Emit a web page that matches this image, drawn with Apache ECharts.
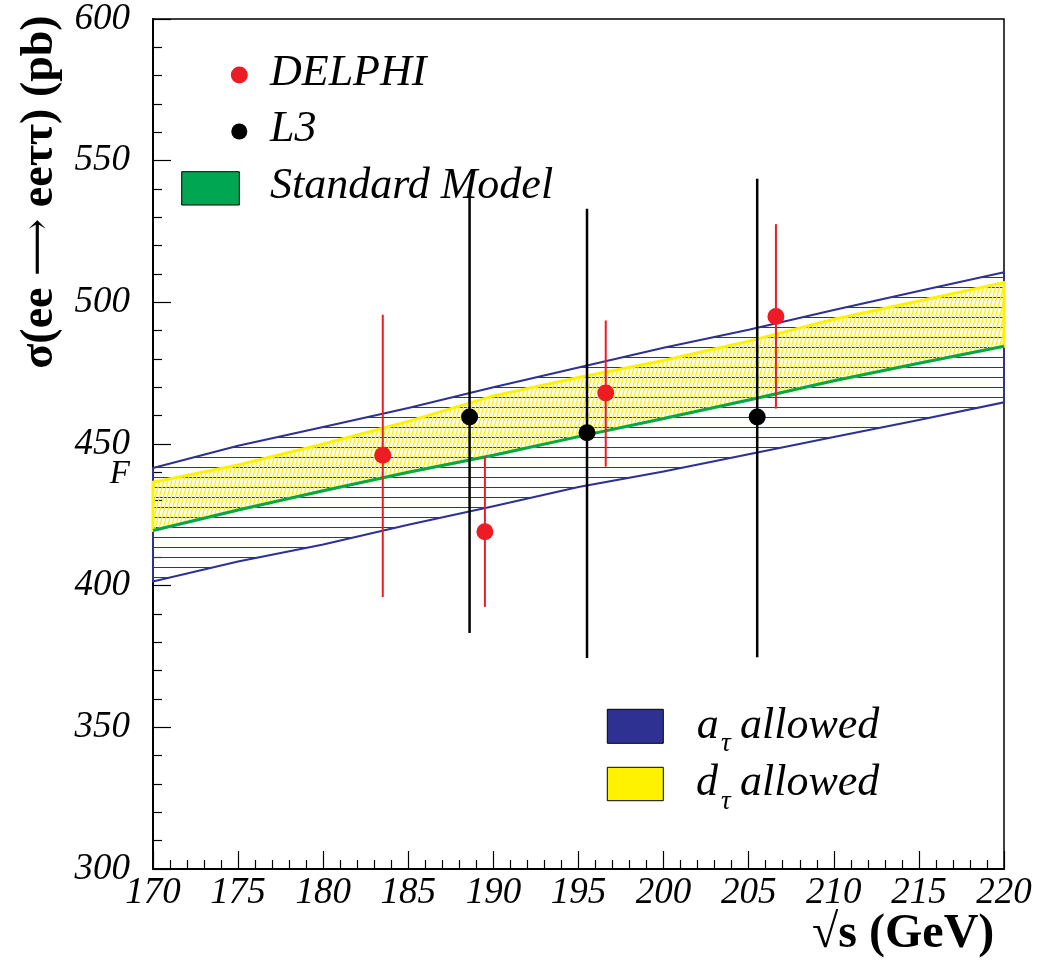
<!DOCTYPE html>
<html>
<head>
<meta charset="utf-8">
<script src="https://cdn.jsdelivr.net/npm/echarts@6/dist/echarts.min.js"></script>
<style>
  html, body { margin: 0; padding: 0; background: #fff; }
  #chart { width: 1043px; height: 965px; }
</style>
</head>
<body>
<div id="chart"></div>
<script>
// Centre-of-mass energies (GeV) at which the allowed bands are tabulated
const energies  = [170, 175, 180, 185, 190, 195, 200, 205, 210, 215, 220];
// a_tau allowed band (pb)
const aTauUpper = [441.5, 449.4, 456.0, 462.7, 470.0, 477.0, 484.0, 490.3, 497.3, 504.0, 510.6];
const aTauLower = [401.5, 408.5, 414.5, 421.5, 428.0, 434.8, 440.3, 446.4, 452.5, 458.5, 464.7];
// d_tau allowed band: upper edge, lower edge is the Standard Model curve
const dTauUpper = [436.5, 442.6, 450.0, 458.0, 467.0, 473.5, 479.5, 486.3, 494.0, 500.5, 507.0];
const smCurve   = [419.5, 426.7, 433.5, 440.0, 446.0, 452.6, 459.0, 465.5, 472.3, 478.5, 484.5];

// DELPHI measurements
const delphiE    = [183.5, 189.5, 196.6, 206.6];
const delphiXs   = [446.0, 419.0, 468.0, 495.0];
const delphiLow  = [396.0, 392.5, 442.0, 462.5];
const delphiHigh = [495.6, 445.6, 493.6, 527.6];

// L3 measurements
const l3E    = [188.6, 195.5, 205.5];
const l3Xs   = [459.5, 454.0, 459.5];
const l3Low  = [383.3, 374.5, 374.7];
const l3High = [537.5, 533.0, 543.6];

// Axis ranges and tick steps
const xRange = [170, 220], xStep = 5;
const yRange = [300, 600], yStep = 50;

const BLUE = '#2e3192', YELLOW = '#fff200', GREEN = '#00a651', RED = '#ed1c24';
const SERIF = '"Liberation Serif", "Times New Roman", serif';

function makeTile(w, h, draw) {
  const c = document.createElement('canvas');
  c.width = w; c.height = h;
  draw(c.getContext('2d'));
  return c;
}
// horizontal hatching for the a_tau band
const hatchH = makeTile(10, 10, g => { g.fillStyle = BLUE; g.fillRect(0, 7, 10, 1); });
// steep slanted hatching for the d_tau band
const hatchS = makeTile(4, 15, g => {
  g.strokeStyle = YELLOW; g.lineWidth = 1.3;
  g.beginPath();
  for (let k = -1; k <= 1; k++) { g.moveTo(k * 4, 15); g.lineTo(k * 4 + 4, 0); }
  g.stroke();
});

function band(name, lower, upper, fillTile, edge, edgeWidth, z) {
  return {
    type: 'custom', name, z, silent: true,
    data: [0],
    renderItem(params, api) {
      const up = energies.map((e, i) => api.coord([e, upper[i]]));
      const lo = energies.map((e, i) => api.coord([e, lower[i]])).reverse();
      return {
        type: 'polygon',
        shape: { points: up.concat(lo) },
        style: { fill: { image: fillTile, repeat: 'repeat' }, stroke: edge, lineWidth: edgeWidth }
      };
    }
  };
}

function errorBars(name, xs, lows, highs, color, width) {
  return {
    type: 'custom', name: name + ' err', z: 5, silent: true,
    data: xs.map((x, i) => [x, lows[i], highs[i]]),
    renderItem(params, api) {
      const a = api.coord([api.value(0), api.value(1)]);
      const b = api.coord([api.value(0), api.value(2)]);
      return { type: 'line', shape: { x1: a[0], y1: a[1], x2: b[0], y2: b[1] },
               style: { stroke: color, lineWidth: width } };
    }
  };
}

function label(x, baseline, text, size, opts) {
  opts = opts || {};
  return {
    type: 'text', x, y: baseline - 0.3375 * size, z: 100,
    style: {
      text, fill: '#000', align: opts.align || 'left', verticalAlign: 'middle',
      font: (opts.weight || 'italic') + ' ' + size + 'px ' + SERIF
    }
  };
}

const chart = echarts.init(document.getElementById('chart'), null, { renderer: 'canvas' });

const axisCommon = {
  type: 'value',
  axisLine: { show: true, onZero: false, lineStyle: { color: '#000', width: 2 } },
  axisTick: { show: true, inside: true, length: 18, lineStyle: { color: '#000', width: 1.2 } },
  minorTick: { show: true, splitNumber: 5, length: 9, lineStyle: { color: '#000', width: 1.2 } },
  splitLine: { show: false },
  minorSplitLine: { show: false }
};

chart.setOption({
  animation: false,
  backgroundColor: '#fff',
  grid: { left: 153, top: 19, width: 851, height: 850, show: true, borderColor: '#000', borderWidth: 1.5, containLabel: false },
  xAxis: Object.assign({}, axisCommon, {
    min: xRange[0], max: xRange[1], interval: xStep,
    axisLabel: { color: '#000', fontFamily: SERIF, fontStyle: 'italic', fontSize: 37, margin: 6 }
  }),
  yAxis: Object.assign({}, axisCommon, {
    min: yRange[0], max: yRange[1], interval: yStep,
    axisLabel: { color: '#000', fontFamily: SERIF, fontStyle: 'italic', fontSize: 37, margin: 23 }
  }),
  series: [
    band('a_tau allowed', aTauLower, aTauUpper, hatchH, BLUE, 2, 2),
    band('d_tau allowed', smCurve, dTauUpper, hatchS, YELLOW, 3, 3),
    {
      type: 'line', name: 'Standard Model', z: 4, silent: true,
      data: energies.map((e, i) => [e, smCurve[i]]),
      showSymbol: false, symbol: 'none',
      lineStyle: { color: GREEN, width: 3 }
    },
    errorBars('DELPHI', delphiE, delphiLow, delphiHigh, RED, 2),
    errorBars('L3', l3E, l3Low, l3High, '#000', 2.5),
    {
      type: 'scatter', name: 'DELPHI', z: 6, symbol: 'circle', symbolSize: 17,
      itemStyle: { color: RED, opacity: 1 },
      data: delphiE.map((e, i) => [e, delphiXs[i]])
    },
    {
      type: 'scatter', name: 'L3', z: 6, symbol: 'circle', symbolSize: 17,
      itemStyle: { color: '#000', opacity: 1 },
      data: l3E.map((e, i) => [e, l3Xs[i]])
    }
  ],
  graphic: [
    // axis titles
    {
      type: 'text', x: 40, y: 192, rotation: Math.PI / 2, z: 100,
      style: {
        text: '{t|σ(ee }{a|⟶}{t| eeττ) (pb)}', fill: '#000', align: 'center', verticalAlign: 'middle',
        rich: {
          t: { fontFamily: SERIF, fontWeight: 'bold', fontSize: 46, fill: '#000' },
          a: { fontFamily: '"DejaVu Serif", "DejaVu Sans", serif', fontWeight: 'normal', fontSize: 40, fill: '#000' }
        }
      }
    },
    label(812, 951, '√s (GeV)', 48, { weight: 'bold' }),
    label(130, 485, 'F', 33, { align: 'right' }),

    // upper legend
    { type: 'circle', z: 100, shape: { cx: 239.3, cy: 75, r: 8.5 }, style: { fill: RED } },
    label(270, 88.3, 'DELPHI', 44),
    { type: 'circle', z: 100, shape: { cx: 239.3, cy: 131.5, r: 8 }, style: { fill: '#000' } },
    label(270, 144.3, 'L3', 44),
    { type: 'rect', z: 100, shape: { x: 181.7, y: 171.7, width: 57.6, height: 33.3 },
      style: { fill: GREEN, stroke: '#000', lineWidth: 1 } },
    label(270, 201.7, 'Standard Model', 44),

    // lower legend
    { type: 'rect', z: 100, shape: { x: 607.3, y: 709.3, width: 56, height: 34 },
      style: { fill: BLUE, stroke: '#000', lineWidth: 1 } },
    label(696.7, 741.7, 'a', 44),
    label(721, 753.3, 'τ', 27),
    label(740, 741.7, 'allowed', 44),
    { type: 'rect', z: 100, shape: { x: 607.3, y: 767.3, width: 56, height: 33.4 },
      style: { fill: YELLOW, stroke: '#000', lineWidth: 1 } },
    label(696, 798.3, 'd', 44),
    label(721, 810.7, 'τ', 27),
    label(740, 798.3, 'allowed', 44)
  ]
});
</script>
</body>
</html>
